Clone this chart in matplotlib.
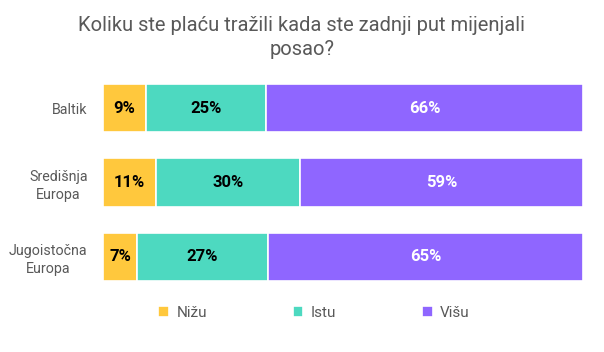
import numpy as np
import matplotlib.pyplot as plt

categories = ['Baltik', 'Središnja\nEuropa', 'Jugoistočna\nEuropa']
series = ['Nižu', 'Istu', 'Višu']
nizu = [9, 11, 7]
istu = [25, 30, 27]
visu = [66, 59, 65]
colors = ['#FFC83D', '#4DD9C0', '#8F66FF']
label_colors = ['black', 'black', 'white']

plt.rcParams['font.family'] = ['Roboto', 'DejaVu Sans']

fig = plt.figure(figsize=(6.04, 3.52), dpi=100)
ax = fig.add_axes([0.1705, 0.165, 0.795, 0.633])

data = np.array([nizu, istu, visu], dtype=float)
totals = data.sum(axis=0)
shares = data / totals * 100  # 100% stacked
y = np.arange(len(categories))
left = np.zeros(len(categories))
for i, name in enumerate(series):
    ax.barh(y, shares[i], left=left, height=0.65, color=colors[i],
            edgecolor='white', linewidth=1.2, label=name)
    for j in range(len(categories)):
        ax.text(left[j] + shares[i][j] / 2, y[j], f'{int(data[i][j])}%',
                ha='center', va='center', fontsize=12, fontweight='bold',
                color=label_colors[i])
    left += shares[i]

ax.set_xlim(0, 100)
ax.set_ylim(2.5, -0.5)
ax.set_yticks(y)
ax.set_yticklabels(categories, fontsize=10.3, color='#595959', linespacing=1.35,
                   multialignment='center')
ax.tick_params(axis='y', length=0, pad=11)
ax.set_xticks([])
for s in ax.spines.values():
    s.set_visible(False)

fig.text(0.5, 0.955, 'Koliku ste plaću tražili kada ste zadnji put mijenjali\nposao?',
         ha='center', va='top', fontsize=14.5, color='#595959', linespacing=1.35)

fig.legend(loc='center', bbox_to_anchor=(0.52, 0.112), ncol=3, frameon=False,
           fontsize=11, handlelength=0.7, handleheight=0.7, columnspacing=5.6,
           handletextpad=0.5, labelcolor='#595959')

fig.savefig('out.png', dpi=100)
